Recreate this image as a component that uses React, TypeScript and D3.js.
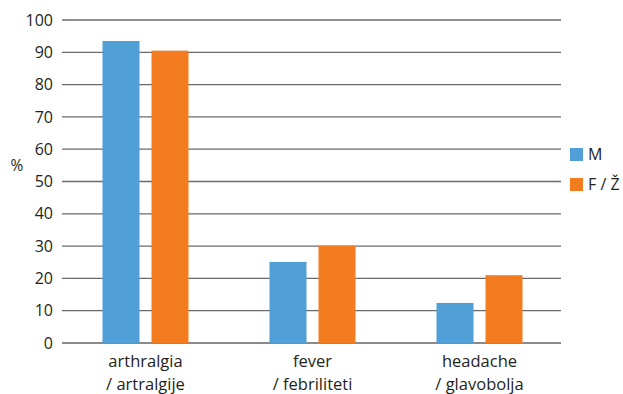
import React from "react";
import * as d3 from "d3";

const categories = ["arthralgia|/ artralgije", "fever|/ febriliteti", "headache|/ glavobolja"];
const seriesNames = ["M", "F / Ž"];
const valuesM = [93.5, 25.1, 12.4];
const valuesF = [90.5, 30.1, 21.0];
const yTicks = [0, 10, 20, 30, 40, 50, 60, 70, 80, 90, 100];
const colors = ["#519fd7", "#f37c20"];

export default function App() {
  const W = 623, H = 394;
  const left = 62, right = 563, top = 20, bottom = 343;
  const x = d3.scaleBand().domain(categories).range([left, right]);
  const y = d3.scaleLinear().domain([0, 100]).range([bottom, top]);
  const barW = 37, gap = 12;
  const series = [valuesM, valuesF];
  const font = "'Open Sans', 'Noto Sans', sans-serif";
  return (
    <svg width={W} height={H} style={{ position: "absolute", left: 0, top: 0 }} fontFamily={font}>
      <rect width={W} height={H} fill="#fff" />
      {yTicks.map((t) => (
        <g key={t}>
          <line x1={left} x2={561} y1={y(t)} y2={y(t)} stroke={t === 0 ? "#8a8a8a" : "#6a6a6a"} strokeWidth={t === 0 ? 2 : 1.3} />
          <text x={53} y={y(t)} dy="0.35em" textAnchor="end" fontSize={16} fill="#231f20">{t}</text>
        </g>
      ))}
      <text x={17} y={166} dy="0.35em" textAnchor="middle" fontSize={15.5} fill="#231f20">%</text>
      {categories.map((c, i) => {
        const cx = (x(c) as number) + x.bandwidth() / 2;
        return series.map((vals, s) => {
          const bx = s === 0 ? cx - gap / 2 - barW : cx + gap / 2;
          return <rect key={c + s} x={bx} y={y(vals[i])} width={barW} height={bottom - y(vals[i])} fill={colors[s]} />;
        });
      })}
      {categories.map((c) => {
        const cx = (x(c) as number) + x.bandwidth() / 2;
        const [l1, l2] = c.split("|");
        return (
          <text key={c} x={cx} textAnchor="middle" fontSize={16.5} fill="#231f20">
            <tspan x={cx} y={367}>{l1}</tspan>
            <tspan x={cx} y={390}>{l2}</tspan>
          </text>
        );
      })}
      {seriesNames.map((n, s) => (
        <g key={n}>
          <rect x={570} y={148 + s * 30} width={13} height={13} fill={colors[s]} />
          <text x={588} y={154.5 + s * 30} dy="0.35em" fontSize={16} fill="#231f20">{n}</text>
        </g>
      ))}
    </svg>
  );
}
